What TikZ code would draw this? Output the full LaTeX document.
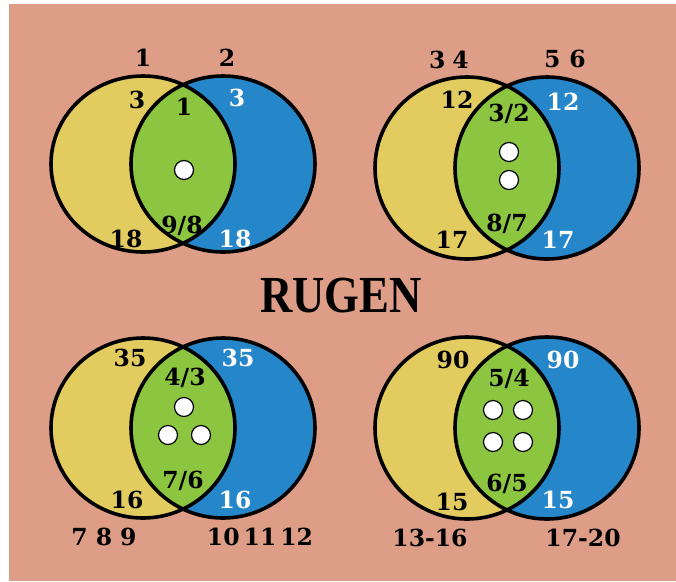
\documentclass[tikz,border=0pt]{standalone}
\usepackage{graphicx}
\usepackage{fontspec}
\setmainfont{DejaVu Serif}
\newfontfamily\titlefont{Liberation Serif}
\usetikzlibrary{positioning}

\definecolor{salmon}{HTML}{DD9D86}
\definecolor{vennyellow}{HTML}{E2CB5F}
\definecolor{vennblue}{HTML}{2586C9}
\definecolor{venngreen}{HTML}{8CC53F}

\begin{document}
\begin{tikzpicture}[x=1pt, y=-1pt,
    num/.style={font=\bfseries\fontsize{23.5}{23.5}\selectfont, inner sep=0pt, text height=17pt, text depth=0pt},
    wnum/.style={num, text=white},
    dot/.style={circle, draw=black, fill=white, line width=1.2pt, minimum size=19pt, inner sep=0pt},
    ring/.style={draw=black, line width=3.6pt},
    title/.style={font=\titlefont\bfseries\fontsize{52}{52}\selectfont, inner sep=0pt}
]
    \useasboundingbox (0,0) rectangle (676,581);
    \fill[salmon] (9,4) rectangle (676,581);

    % four venn diagrams
    \foreach \cx/\cy/\ry in {183/164/88, 507/168/91, 183/428/90, 507/428/91}{
        \fill[vennyellow] (\cx-40,\cy) ellipse [x radius=92, y radius=\ry];
        \fill[vennblue] (\cx+40,\cy) ellipse [x radius=92, y radius=\ry];
        \begin{scope}
            \clip (\cx-40,\cy) ellipse [x radius=92, y radius=\ry];
            \fill[venngreen] (\cx+40,\cy) ellipse [x radius=92, y radius=\ry];
        \end{scope}
        \draw[ring] (\cx-40,\cy) ellipse [x radius=92, y radius=\ry];
        \draw[ring] (\cx+40,\cy) ellipse [x radius=92, y radius=\ry];
    }

    % top left
    \node (tlA) [num] at (143,58) {1};
    \node (tlB) [num] at (227,58) {2};
    \node (tlY) [num] at (137,100) {3};
    \node (tlG) [num] at (184,107) {1};
    \node (tlW) [wnum] at (237,98) {3};
    \node (tlD) [dot] at (184,170) {};
    \node (tlF) [num] at (182,225) {9/8};
    \node (tlY2) [num] at (126,239) {18};
    \node (tlW2) [wnum] at (235,239) {18};

    % top right
    \node (trA) [num] at (449,60) {3\hspace{7pt}4};
    \node (trB) [num] at (565,59) {5\hspace{9pt}6};
    \node (trY) [num] at (457,100) {12};
    \node (trG) [num] at (509,113) {3/2};
    \node (trW) [wnum] at (563,102) {12};
    \node (trD1) [dot] at (509,152) {};
    \node (trD2) [dot] at (509,180) {};
    \node (trF) [num] at (507,223) {8/7};
    \node (trY2) [num] at (452,240) {17};
    \node (trW2) [wnum] at (558,240) {17};

    % title
    \node (rugen) [title] at (341,296) {\scalebox{0.86}[1]{RUGEN}};

    % bottom left
    \node (blY) [num] at (130,358) {35};
    \node (blW) [wnum] at (238,358) {35};
    \node (blG) [num] at (185,377) {4/3};
    \node (blD1) [dot] at (184,407) {};
    \node (blD2) [dot] at (168,435) {};
    \node (blD3) [dot] at (201,435) {};
    \node (blF) [num] at (183,480) {7/6};
    \node (blY2) [num] at (127,500) {16};
    \node (blW2) [wnum] at (235,500) {16};
    \node (blA) [num] at (104,537) {7\hspace{8pt}8\hspace{8pt}9};
    \node (blB) [num] at (260,537) {10\hspace{4pt}11\hspace{4pt}12};

    % bottom right
    \node (brY) [num] at (453,360) {90};
    \node (brW) [wnum] at (563,360) {90};
    \node (brG) [num] at (509,378) {5/4};
    \node (brD1) [dot] at (493,410) {};
    \node (brD2) [dot] at (523,410) {};
    \node (brD3) [dot] at (493,442) {};
    \node (brD4) [dot] at (523,442) {};
    \node (brF) [num] at (507,483) {6/5};
    \node (brY2) [num] at (452,502) {15};
    \node (brW2) [wnum] at (558,500) {15};
    \node (brA) [num] at (430,538) {13-16};
    \node (brB) [num] at (583,538) {17-20};
\end{tikzpicture}
\end{document}
